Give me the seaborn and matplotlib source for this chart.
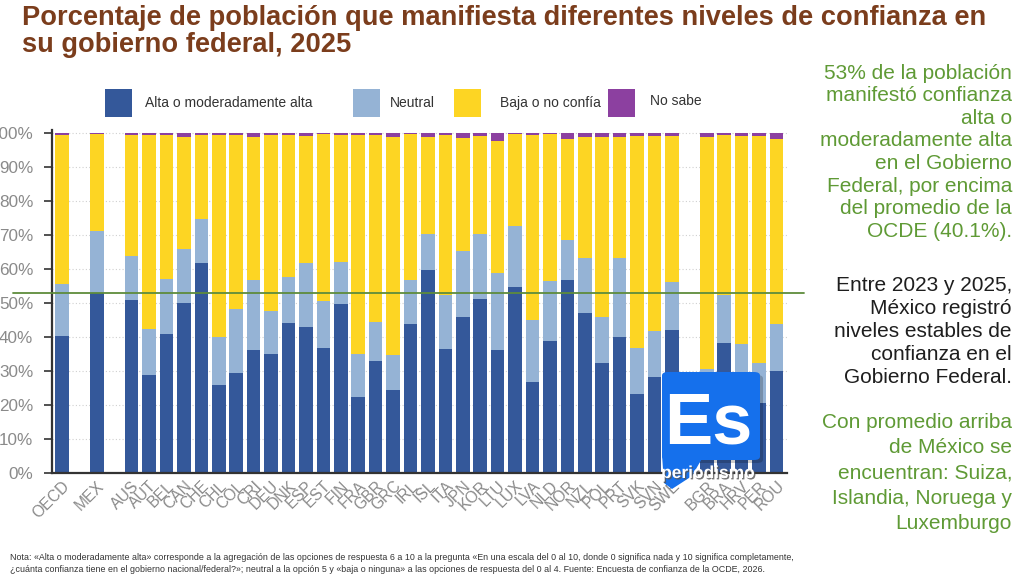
import numpy as np
import pandas as pd
import matplotlib
matplotlib.use("Agg")
import matplotlib.pyplot as plt
import seaborn as sns
from matplotlib.patches import Rectangle, FancyBboxPatch, Polygon
import matplotlib.patheffects as pe

# ---------------- data ----------------
group_oecd = ["OECD"]
group_mex = ["MEX"]
group_members = ["AUS", "AUT", "BEL", "CAN", "CHE", "CHL", "COL", "CRI", "DEU", "DNK",
                 "ESP", "EST", "FIN", "FRA", "GBR", "GRC", "IRL", "ISL", "ITA", "JPN",
                 "KOR", "LTU", "LUX", "LVA", "NLD", "NOR", "NZL", "POL", "PRT", "SVK",
                 "SVN", "SWE"]
group_others = ["BGR", "BRA", "HRV", "PER", "ROU"]
groups = [group_oecd, group_mex, group_members, group_others]

alta = [40.1, 53.0,
        50.7, 28.7, 40.8, 50.0, 61.7, 25.7, 29.4, 36.1, 35.0, 44.2,
        42.8, 36.8, 49.7, 22.3, 33.0, 24.2, 43.9, 59.6, 36.5, 45.9,
        51.1, 36.2, 54.8, 26.8, 38.9, 56.8, 46.9, 32.3, 40.0, 23.1,
        28.3, 41.9,
        19.0, 38.3, 24.0, 20.4, 30.0]
neutral = [15.4, 18.1,
           13.2, 13.5, 16.1, 15.8, 12.9, 14.3, 18.7, 20.5, 12.5, 13.5,
           19.0, 13.6, 12.2, 12.6, 11.5, 10.4, 12.8, 10.7, 15.8, 19.4,
           19.2, 22.6, 17.9, 18.1, 17.5, 11.7, 16.4, 13.6, 23.3, 13.5,
           13.4, 14.1,
           11.5, 14.1, 13.8, 11.8, 13.7]
baja = [43.9, 28.6,
        35.6, 57.3, 42.6, 33.1, 24.8, 59.4, 51.3, 42.3, 52.0, 41.7,
        37.4, 49.3, 37.5, 64.5, 54.9, 64.3, 43.1, 28.4, 47.1, 33.2,
        28.9, 38.9, 27.0, 54.5, 43.3, 29.8, 35.6, 53.0, 35.6, 62.5,
        57.5, 43.1,
        68.4, 47.0, 61.4, 67.0, 54.4]
no_sabe = [0.6, 0.3,
           0.5, 0.5, 0.5, 1.1, 0.6, 0.6, 0.6, 1.1, 0.5, 0.6,
           0.8, 0.3, 0.6, 0.6, 0.6, 1.1, 0.2, 1.3, 0.6, 1.5,
           0.8, 2.3, 0.3, 0.6, 0.3, 1.7, 1.1, 1.1, 1.1, 0.9,
           0.8, 0.9,
           1.1, 0.6, 0.8, 0.8, 1.9]
mexico_level = 53.0
y_ticks = list(range(0, 101, 10))
legend_labels = ["Alta o moderadamente alta", "Neutral", "Baja o no confía", "No sabe"]

title_lines = ["Porcentaje de población que manifiesta diferentes niveles de confianza en",
               "su gobierno federal, 2025"]
para1 = ["53% de la población", "manifestó confianza", "alta o", "moderadamente alta",
         "en el Gobierno", "Federal, por encima", "del promedio de la", "OCDE (40.1%)."]
para2 = ["Entre 2023 y 2025,", "México registró", "niveles estables de",
         "confianza en el", "Gobierno Federal."]
para3 = ["Con promedio arriba", "de México se", "encuentran: Suiza,",
         "Islandia, Noruega y", "Luxemburgo"]
note_lines = [
    "Nota: «Alta o moderadamente alta» corresponde a la agregación de las opciones de respuesta 6 a 10 a la pregunta «En una escala del 0 al 10, donde 0 significa nada y 10 significa completamente,",
    "¿cuánta confianza tiene en el gobierno nacional/federal?»; neutral a la opción 5 y «baja o ninguna» a las opciones de respuesta del 0 al 4. Fuente: Encuesta de confianza de la OCDE, 2026.",
]

# ---------------- layout derived from groups ----------------
countries, pos = [], []
p = 0
for g in groups:
    for c in g:
        countries.append(c)
        pos.append(p)
        p += 1
    p += 1  # gap between groups

df = pd.DataFrame({"pais": countries, "pos": pos, "alta": alta, "neutral": neutral,
                   "baja": baja, "no_sabe": no_sabe})
df["c1"] = df["alta"]
df["c2"] = df["c1"] + df["neutral"]
df["c3"] = df["c2"] + df["baja"]
df["c4"] = df["c3"] + df["no_sabe"]

C_ALTA = "#34589a"
C_NEU = "#95b3d5"
C_BAJA = "#fdd523"
C_NS = "#8c40a0"
GREEN = "#5f9a35"

sns.set_theme(style="white")
plt.rcParams["font.family"] = ["Liberation Sans", "DejaVu Sans"]

W, H = 1024, 576
fig = plt.figure(figsize=(W / 100, H / 100), dpi=100)
fig.patch.set_facecolor("white")

def fx(px):
    return px / W

def fy(py):
    return 1 - py / H

ax_left, ax_right = 52, 787
ax_bottom_px, ax_top_px = 472.7, 129.6
ax = fig.add_axes([fx(ax_left), fy(ax_bottom_px), (ax_right - ax_left) / W,
                   (ax_bottom_px - ax_top_px) / H])

for col, color in [("c4", C_NS), ("c3", C_BAJA), ("c2", C_NEU), ("c1", C_ALTA)]:
    sns.barplot(data=df, x="pos", y=col, native_scale=True, color=color, saturation=1,
                width=0.78, linewidth=0, errorbar=None, ax=ax, zorder=2)

ax.set_xlim(-0.57, 41.6)
ax.set_ylim(0, 101)
ax.set_xticks(df["pos"].tolist())
ax.set_xticklabels(df["pais"].tolist(), rotation=45, ha="right", rotation_mode="anchor",
                   color="#8a8a8a", fontsize=11.3)
ax.set_yticks(y_ticks)
ax.set_yticklabels([f"{v}%" for v in y_ticks], color="#8a8a8a", fontsize=12.3)
ax.tick_params(axis="x", length=0, pad=4)
ax.tick_params(axis="y", length=5.5, width=1.2, color="#333333", pad=8, left=True)
ax.set_xlabel("")
ax.set_ylabel("")
ax.yaxis.grid(True, linestyle=(0, (1, 2)), color="#d0d0d0", linewidth=0.8)
ax.set_axisbelow(True)
for s in ["top", "right"]:
    ax.spines[s].set_visible(False)
for s in ["left", "bottom"]:
    ax.spines[s].set_color("#333333")
    ax.spines[s].set_linewidth(1.6)
    ax.spines[s].set_zorder(3)

# Mexico reference line (extends beyond the axes)
ax.axhline(mexico_level, xmin=(13 - ax_left) / (ax_right - ax_left),
           xmax=(804 - ax_left) / (ax_right - ax_left), color="#5e8c3c",
           linewidth=1.3, clip_on=False, zorder=4)

# ---------------- title ----------------
title_color = "#7b3d1c"
fig.text(fx(22), fy(25), title_lines[0], fontsize=19.6, fontweight="bold",
         color=title_color, va="baseline", ha="left")
fig.text(fx(22), fy(52), title_lines[1], fontsize=19.6, fontweight="bold",
         color=title_color, va="baseline", ha="left")

# ---------------- legend ----------------
leg_colors = [C_ALTA, C_NEU, C_BAJA, C_NS]
sq_x = [105, 353, 454, 608]
txt_x = [145, 390, 500, 650]
txt_y = [103, 103, 103, 101]
for lab, col, sx, tx, ty in zip(legend_labels, leg_colors, sq_x, txt_x, txt_y):
    fig.add_artist(Rectangle((fx(sx), fy(117)), 27 / W, 28 / H, transform=fig.transFigure,
                             facecolor=col, edgecolor="none"))
    fig.text(fx(tx), fy(ty), lab, fontsize=10, color="#333333", va="center", ha="left")

# ---------------- right-side text ----------------
def para(lines, y0, dy, color):
    for i, line in enumerate(lines):
        fig.text(fx(1012), fy(y0 + i * dy + 7), line, fontsize=15, color=color,
                 ha="right", va="baseline")

para(para1, 71.7, 22.6, GREEN)
para(para2, 284, 23.0, "#1e1e1e")
para(para3, 421, 25.2, GREEN)

# ---------------- footnote ----------------
fig.text(fx(10), fy(557), note_lines[0], fontsize=6.4, color="#333333", va="center", ha="left")
fig.text(fx(10), fy(569), note_lines[1], fontsize=6.4, color="#333333", va="center", ha="left")

# ---------------- watermark logo ----------------
LOGO = "#1570ec"
fig.add_artist(FancyBboxPatch((fx(665), fy(463)), 98 / W, 88 / H,
                              boxstyle="round,pad=0,rounding_size=0.006",
                              transform=fig.transFigure, facecolor="#00000033",
                              edgecolor="none", zorder=10))
fig.add_artist(FancyBboxPatch((fx(662), fy(460)), 98 / W, 88 / H,
                              boxstyle="round,pad=0,rounding_size=0.006",
                              transform=fig.transFigure, facecolor=LOGO,
                              edgecolor="none", zorder=11))
fig.add_artist(Polygon([(fx(662), fy(455)), (fx(704), fy(455)), (fx(692), fy(476)),
                        (fx(672), fy(489)), (fx(664), fy(483))],
                       closed=True, transform=fig.transFigure, facecolor=LOGO,
                       edgecolor="none", zorder=11))
t = fig.text(fx(664), fy(444), "Es", fontsize=52, fontweight="heavy", color="white",
             ha="left", va="baseline", zorder=12)
t2 = fig.text(fx(708), fy(478), "periodismo", fontsize=12.5, fontweight="bold",
              color="white", ha="center", va="baseline", zorder=12)
t2.set_path_effects([pe.withSimplePatchShadow(offset=(1, -1), shadow_rgbFace="#555555",
                                              alpha=0.8)])

fig.savefig("out.png", dpi=100)
